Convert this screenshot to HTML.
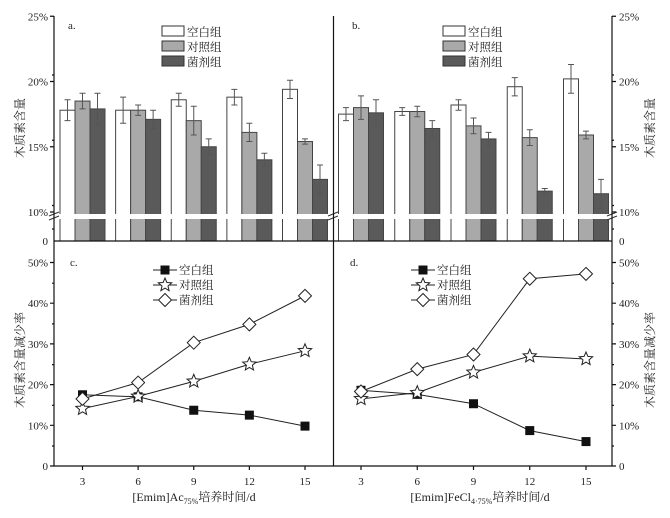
<!DOCTYPE html>
<html><head><meta charset="utf-8"><style>
body{margin:0;background:#fff}
svg text{font-family:"Liberation Serif","Noto Serif CJK SC",serif;fill:#222}
</style></head><body>
<svg id="c" width="670" height="513" viewBox="0 0 670 513" xmlns="http://www.w3.org/2000/svg"></svg>
<script>
const days=[3,6,9,12,15];
const barA_blank=[17.8,17.8,18.6,18.8,19.4];
const barA_ctrl=[18.5,17.8,17.0,16.1,15.4];
const barA_fung=[17.9,17.1,15.0,14.0,12.5];
const errA_blank=[0.8,1.0,0.5,0.6,0.7];
const errA_ctrl=[0.6,0.4,1.1,0.7,0.2];
const errA_fung=[1.2,0.7,0.6,0.5,1.1];
const barB_blank=[17.5,17.7,18.2,19.6,20.2];
const barB_ctrl=[18.0,17.7,16.6,15.7,15.9];
const barB_fung=[17.6,16.4,15.6,11.6,11.4];
const errB_blank=[0.5,0.3,0.4,0.7,1.1];
const errB_ctrl=[0.9,0.4,0.6,0.6,0.3];
const errB_fung=[1.0,0.6,0.5,0.2,1.1];
const lineC_blank=[17.5,17.0,13.7,12.5,9.8];
const lineC_ctrl=[14.1,17.1,20.8,25.0,28.3];
const lineC_fung=[16.5,20.5,30.3,34.8,41.8];
const lineD_blank=[18.6,17.6,15.3,8.7,6.0];
const lineD_ctrl=[16.5,18.0,23.0,27.0,26.3];
const lineD_fung=[18.3,23.8,27.4,46.0,47.2];
const barTicks=[10,15,20,25];
const lineTicks=[0,10,20,30,40,50];
const legendNames=["空白组","对照组","菌剂组"];

const NS="http://www.w3.org/2000/svg";
const svg=document.getElementById('c');
function el(tag,attrs,parent,txt){const e=document.createElementNS(NS,tag);for(const k in attrs)e.setAttribute(k,attrs[k]);if(txt!==undefined)e.textContent=txt;(parent||svg).appendChild(e);return e;}
function xL(d){return 82.5+(d-3)*(305-82.5)/12;}
function xR(d){return 361+(d-3)*(586-361)/12;}
function yBar(v){return 212-(v-10)*13.05;}
function yLine(v){return 466-v*4.07;}
const fills=["#ffffff","#a9a9a9","#5a5a5a"];

function barPanel(xf,sets,errs,name){
  const g=el('g',{},svg);
  
  
  days.forEach((d,i)=>{
    sets.forEach((s,j)=>{
      const cx=xf(d)+(j-1)*15;
      const y=yBar(s[i]);
      const r=el('rect',{x:cx-7.5,y:y,width:15,height:241-y,fill:fills[j],stroke:"#444","stroke-width":1},g);
      
      
      const e=errs[j][i];
      const eb=el('path',{d:`M${cx},${yBar(s[i]+e)}V${yBar(s[i]-e)}M${cx-3},${yBar(s[i]+e)}h6M${cx-3},${yBar(s[i]-e)}h6`,stroke:"#555","stroke-width":1,fill:"none"},g);
      
      
    });
  });
}
barPanel(xL,[barA_blank,barA_ctrl,barA_fung],[errA_blank,errA_ctrl,errA_fung],'bar-panel-a');
barPanel(xR,[barB_blank,barB_ctrl,barB_fung],[errB_blank,errB_ctrl,errB_fung],'bar-panel-b');
el('rect',{x:50,y:214,width:570,height:5,fill:"#fff"});
el('path',{d:"M49,216l10,-4M49,220l10,-4M328,216l10,-4M328,220l10,-4M607,216l10,-4M607,220l10,-4",stroke:"#333","stroke-width":1});

function linePanel(xf,sets,name){
  const g=el('g',{},svg);
  
  
  sets.forEach((s,j)=>{
    const p=el('polyline',{points:days.map((d,i)=>xf(d)+","+yLine(s[i])).join(" "),fill:"none",stroke:"#222","stroke-width":1},g);
    
    
    days.forEach((d,i)=>{marker(j,xf(d),yLine(s[i]),g);});
  });
}
function star(cx,cy,r){let pts=[];for(let k=0;k<10;k++){const a=-Math.PI/2+k*Math.PI/5;const rr=k%2?r*0.45:r;pts.push((cx+rr*Math.cos(a)).toFixed(1)+","+(cy+rr*Math.sin(a)).toFixed(1));}return pts.join(" ");}
function marker(j,x,y,g){
  let m;
  if(j===0)m=el('rect',{x:x-4.5,y:y-4.5,width:9,height:9,fill:"#111"},g);
  else if(j===1)m=el('polygon',{points:star(x,y,7),fill:"#fff",stroke:"#222","stroke-width":1},g);
  else m=el('polygon',{points:`${x},${y-6.5} ${x+6.5},${y} ${x},${y+6.5} ${x-6.5},${y}`,fill:"#fff",stroke:"#222","stroke-width":1},g);
  
  
}
linePanel(xL,[lineC_blank,lineC_ctrl,lineC_fung],'line-panel-c');
linePanel(xR,[lineD_blank,lineD_ctrl,lineD_fung],'line-panel-d');

const ax=el('g',{stroke:"#111","stroke-width":1.2,fill:"none"});


el('path',{d:"M54,16V466H612V16M333.5,16V466M54,241H612"},ax);
barTicks.forEach(t=>{
  const y=yBar(t);
  el('path',{d:`M50,${y}h4M612,${y}h4`},ax);
  if(t<25)el('path',{d:`M52,${y-6.5}h2M612,${y-6.5}h2`},ax);
  const a=el('text',{x:48,y:y+4,"text-anchor":"end","font-size":11,stroke:"none"},svg,t+"%");
  
  const b=el('text',{x:619,y:y+4,"font-size":11,stroke:"none"},svg,t+"%");
  
});
el('path',{d:"M52,229h2M612,229h2"},ax);
el('text',{x:48,y:245,"text-anchor":"end","font-size":11},svg,"0");
el('text',{x:619,y:245,"font-size":11},svg,"0");
lineTicks.forEach(t=>{
  const y=yLine(t);
  el('path',{d:`M50,${y}h4M612,${y}h4`},ax);
  if(t<50)el('path',{d:`M52,${y-20}h2M612,${y-20}h2`},ax);
  const a=el('text',{x:48,y:y+4,"text-anchor":"end","font-size":11},svg,t?t+"%":"0");
  
  const b=el('text',{x:619,y:y+4,"font-size":11},svg,t?t+"%":"0");
  
});
days.forEach(d=>{
  [xL(d),xR(d)].forEach(x=>{
    el('path',{d:`M${x},466v4`},ax);
    const t=el('text',{x:x,y:485,"text-anchor":"middle","font-size":11},svg,String(d));
    
  });
});
[["a.",68,29],["b.",352,29],["c.",70,266],["d.",350,266]].forEach(p=>{const t=el('text',{x:p[1],y:p[2],"font-size":11},svg,p[0]);});
[[162],[443]].forEach(([lx])=>{
  legendNames.forEach((n,j)=>{
    const y=26+j*15;
    const r=el('rect',{x:lx,y:y,width:22,height:10,fill:fills[j],stroke:"#333"});
    
    const t=el('text',{x:lx+25,y:y+10,"font-size":11.5},svg,n);
    
  });
});
[[153],[411]].forEach(([lx])=>{
  const g=el('g',{});
  
  legendNames.forEach((n,j)=>{
    const y=270+j*15;
    el('path',{d:`M${lx},${y}h24`,stroke:"#222"},g);
    marker(j,lx+12,y,g);
    const t=el('text',{x:lx+26,y:y+4,"font-size":11.5},g,n);
    
  });
});
function vtitle(x,y,s,name){const t=el('text',{x:x,y:y,"font-size":12,"text-anchor":"middle",transform:`rotate(-90 ${x} ${y})`},svg,s);}
vtitle(24,128,"木质素含量","y-axis-title-a");
vtitle(654,128,"木质素含量","y-axis-title-b");
vtitle(24,360,"木质素含量减少率","y-axis-title-c");
vtitle(654,360,"木质素含量减少率","y-axis-title-d");
const x1=el('text',{x:194,y:501,"font-size":12,"text-anchor":"middle"});
x1.innerHTML='[Emim]Ac<tspan font-size="8" dy="3">75%</tspan><tspan dy="-3">培养时间/d</tspan>';

const x2=el('text',{x:480,y:501,"font-size":12,"text-anchor":"middle"});
x2.innerHTML='[Emim]FeCl<tspan font-size="8" dy="3">4·75%</tspan><tspan dy="-3">培养时间/d</tspan>';

</script>
</body></html>
